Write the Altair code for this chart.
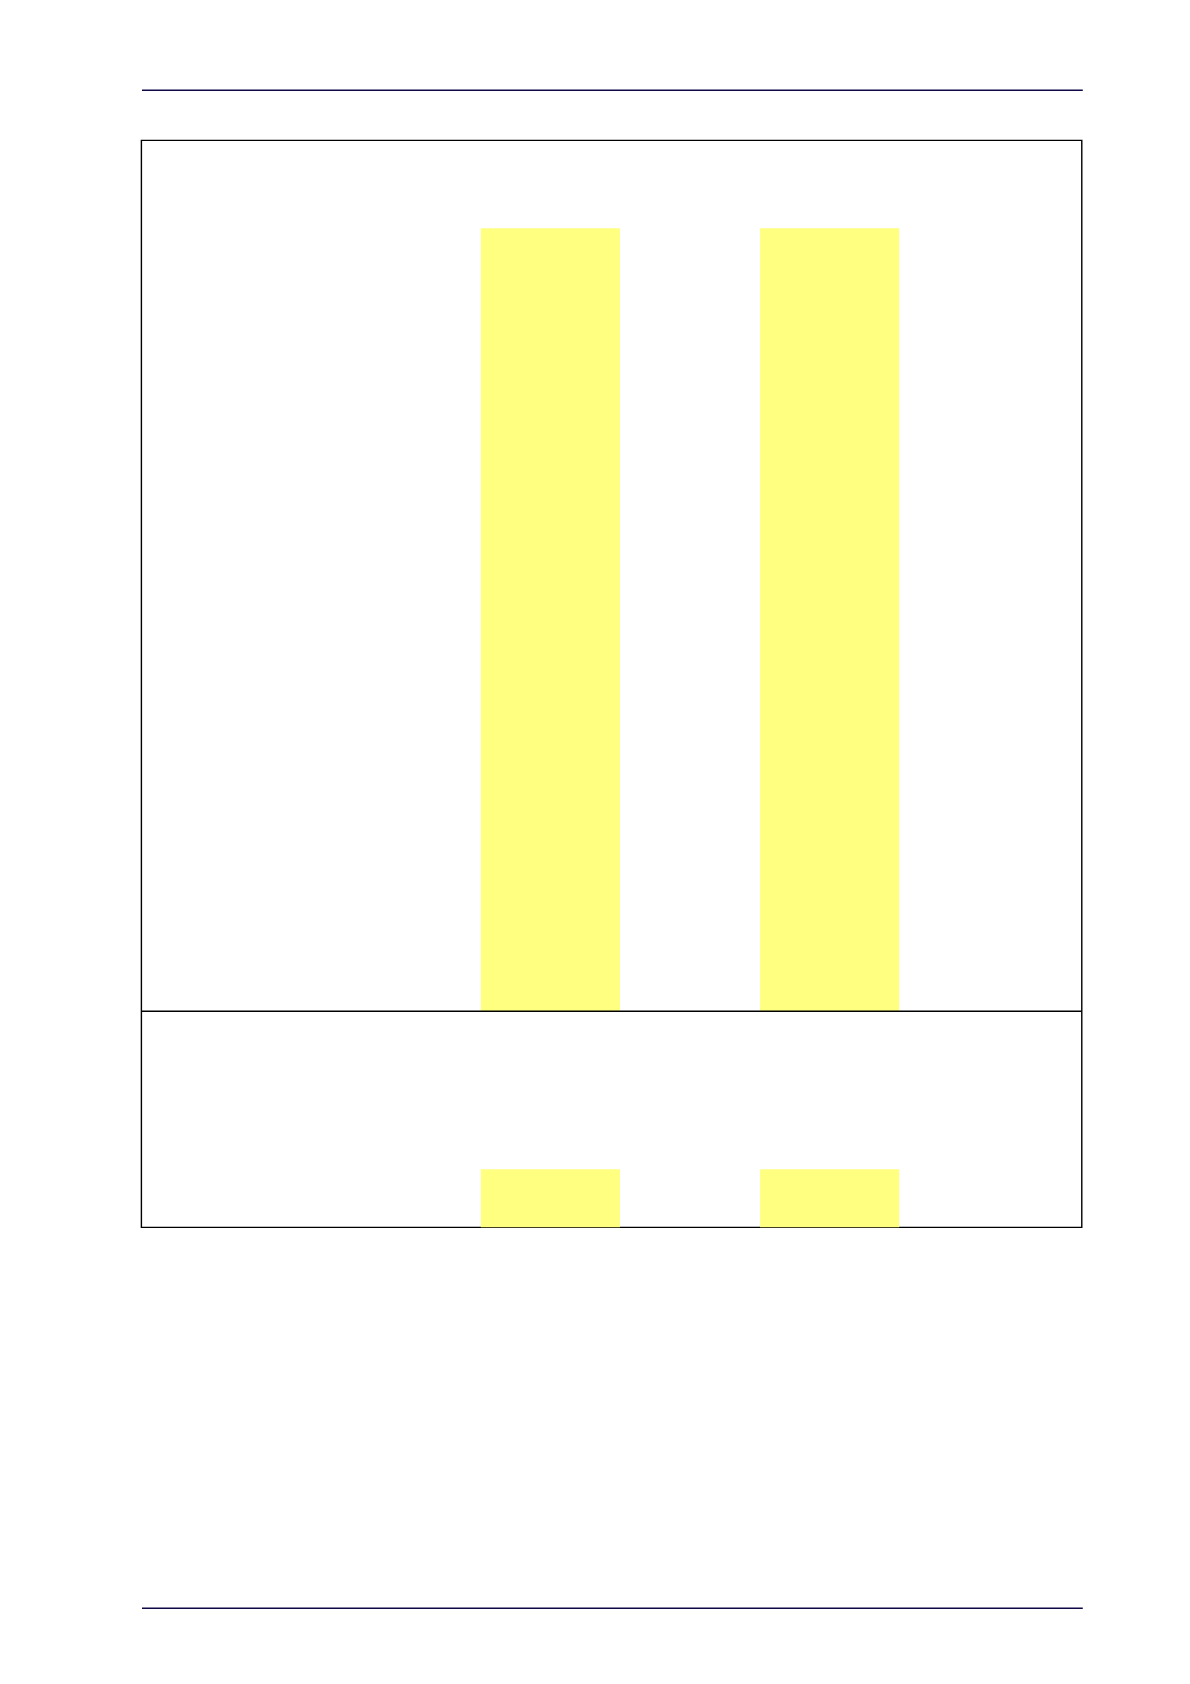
import altair as alt
import pandas as pd

# Data
series = ["A", "B"]
x_start = [36.1, 65.8]
x_end = [50.9, 80.6]
upper_values = [89.9, 89.9]
lower_values = [26.9, 26.9]

BAR_COLOR = "#FFFF80"
RULE_COLOR = "#0e0846"

upper_df = pd.DataFrame({"series": series, "x0": x_start, "x1": x_end,
                         "v": upper_values, "base": [0] * len(series)})
lower_df = pd.DataFrame({"series": series, "x0": x_start, "x1": x_end,
                         "v": lower_values, "base": [0] * len(series)})

W = 940.4
H_UP = 871
H_LO = 216
H = H_UP + H_LO

xs = alt.Scale(domain=[0, 100], nice=False, zero=False)


def bars(df, rng):
    return alt.Chart(df).mark_rect(color=BAR_COLOR).encode(
        x=alt.X("x0:Q", scale=xs, axis=None),
        x2="x1:Q",
        y=alt.Y("v:Q", scale=alt.Scale(domain=[0, 100], nice=False, range=rng), axis=None),
        y2="base:Q",
    )


upper = bars(upper_df, [H_UP, 0])
lower = bars(lower_df, [H, H_UP])

divider = alt.Chart(upper_df.head(1)).mark_rule(color="black", strokeWidth=1.4).encode(
    x=alt.value(0), x2=alt.value(W), y=alt.value(H_UP)
)
header = alt.Chart(upper_df.head(1)).mark_rule(color=RULE_COLOR, strokeWidth=1.5).encode(
    x=alt.value(0.7), x2=alt.value(941.5), y=alt.value(-50)
)
footer = alt.Chart(lower_df.head(1)).mark_rule(color=RULE_COLOR, strokeWidth=1.5).encode(
    x=alt.value(0.7), x2=alt.value(941.5), y=alt.value(1468)
)

chart = alt.layer(upper, lower, divider, header, footer).resolve_scale(
    y="independent"
).properties(
    width=W,
    height=H,
    autosize=alt.AutoSizeParams(type="none"),
    padding={"left": 133.3, "top": 132.3, "right": 80, "bottom": 420},
    background="white",
).configure_view(stroke="black", strokeWidth=1.4)

chart.save("out.html", embed_options={"renderer": "svg", "actions": False})
